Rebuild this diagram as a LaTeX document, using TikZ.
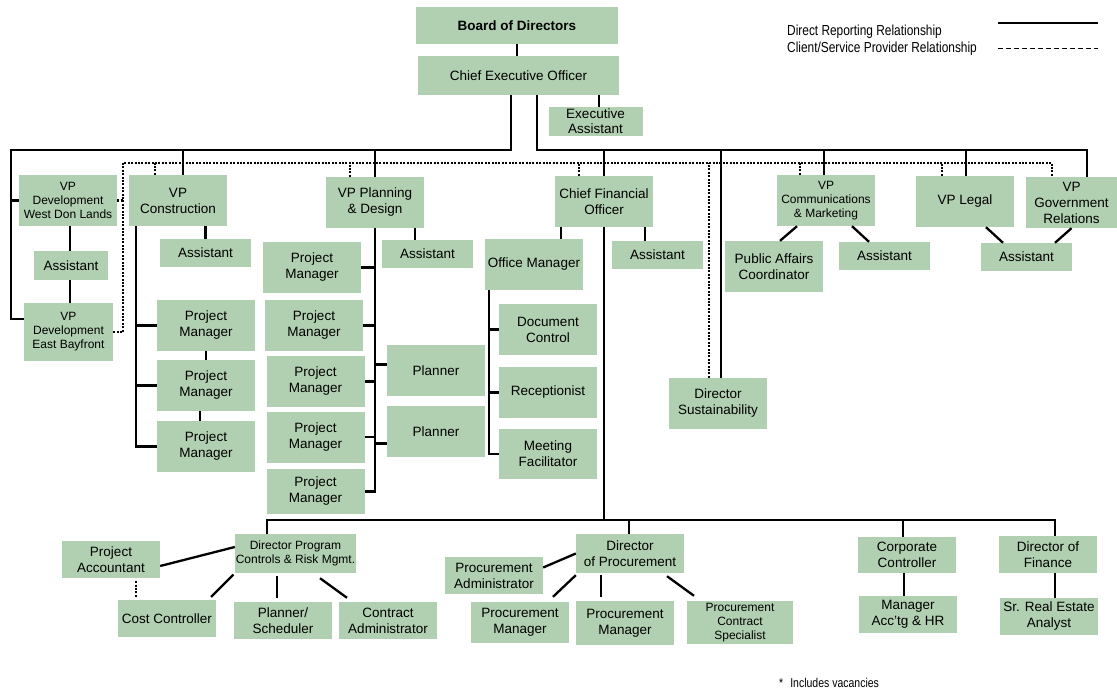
\documentclass[tikz,border=0pt]{standalone}
\usepackage{fontspec}
\setmainfont{Liberation Sans}
\newfontfamily\narrowfont[FakeStretch=0.82]{Liberation Sans}
\usepackage{tikz}
\definecolor{boxgreen}{RGB}{177,208,177}

\begin{document}
\begin{tikzpicture}[x=1pt, y=-1pt,
    box/.style={fill=boxgreen, align=center, inner sep=0pt, minimum width=98pt, minimum height=51pt, font=\fontsize{13.5}{16}\selectfont},
    smallbox/.style={box, font=\fontsize{12}{14}\selectfont},
    asst/.style={box, minimum width=91pt, minimum height=28pt},
    low/.style={box, minimum height=37pt},
    link/.style={line width=2.3pt},
    cslink/.style={line width=2.5pt, dash pattern=on 2pt off 1.4pt}]
  \useasboundingbox (0,0) rectangle (1117,691);

  % top
  \node[box, minimum width=202pt, minimum height=37pt] (board) at (517,25.5) {\textbf{Board of Directors}};
  \node[box, minimum width=201pt, minimum height=39pt] (ceo) at (518.5,75.5) {Chief Executive Officer};
  \node[box, minimum width=94pt, minimum height=29pt, font=\fontsize{13.5}{15}\selectfont] (ea) at (595.5,121.5) {Executive\\Assistant};

  % left side
  \node[smallbox] (vpwdl) at (68,200.5) {VP\\Development\\West Don Lands};
  \node[asst, minimum width=74pt, minimum height=29pt] (asstl) at (71,265.5) {Assistant};
  \node[smallbox, minimum width=89pt, minimum height=58pt] (vpeb) at (68.5,332) {VP\\Development\\East Bayfront};

  \node[box] (vpcon) at (178,200.5) {VP\\Construction};
  \node[asst] (asstc) at (205.5,253) {Assistant};
  \node[box] (pc1) at (206,325.5) {Project\\Manager};
  \node[box] (pc2) at (206,385.5) {Project\\Manager};
  \node[box] (pc3) at (206,446.5) {Project\\Manager};

  \node[box] (vpplan) at (375,202.5) {VP Planning\\\& Design};
  \node[asst] (asstp) at (427.5,254) {Assistant};
  \node[box] (pp1) at (312,267.5) {Project\\Manager};
  \node[box] (pp2) at (314,325.5) {Project\\Manager};
  \node[box] (pp3) at (315.5,381.5) {Project\\Manager};
  \node[box] (pp4) at (315.5,437) {Project\\Manager};
  \node[box, minimum height=45pt] (pp5) at (315.5,491.5) {Project\\Manager};
  \node[box] (pl1) at (436,370.5) {Planner};
  \node[box] (pl2) at (436,431.5) {Planner};

  % finance
  \node[box] (cfo) at (604,201.5) {Chief Financial\\Officer};
  \node[box] (om) at (534,264.5) {Office Manager};
  \node[box] (dc) at (548,329.5) {Document\\Control};
  \node[box] (rec) at (548,392.5) {Receptionist};
  \node[box, minimum height=50pt] (mf) at (548,454) {Meeting\\Facilitator};
  \node[asst] (asstf) at (657.5,255) {Assistant};

  \node[box] (dirsus) at (718,403.5) {Director\\Sustainability};

  % right side
  \node[smallbox] (vpcomm) at (826,200.5) {VP\\Communications\\\& Marketing};
  \node[box] (pac) at (774,266.5) {Public Affairs\\Coordinator};
  \node[asst] (asstcm) at (884.5,256) {Assistant};
  \node[box] (vplegal) at (965,201.5) {VP Legal};
  \node[box, minimum width=91pt] (vpgov) at (1071.5,202.5) {VP\\Government\\Relations};
  \node[asst] (asstlg) at (1026.5,257) {Assistant};

  % bottom row
  \node[smallbox, minimum width=121pt, minimum height=39pt] (dpc) at (295.5,553.5) {Director Program\\Controls \& Risk Mgmt.};
  \node[low] (pa) at (111,559.5) {Project\\Accountant};
  \node[low] (cc) at (167,618.5) {Cost Controller};
  \node[low] (ps) at (283,620.5) {Planner/\\Scheduler};
  \node[low] (ca) at (388,620.5) {Contract\\Administrator};

  \node[low, minimum width=108pt, minimum height=39pt] (dirproc) at (630,553.5) {Director\\of Procurement};
  \node[low] (procadm) at (494,575.5) {Procurement\\Administrator};
  \node[low, minimum height=41pt] (pm1) at (520,622.5) {Procurement\\Manager};
  \node[low, minimum height=44pt] (pm2) at (625,623) {Procurement\\Manager};
  \node[smallbox, minimum width=106pt, minimum height=43pt] (pcs) at (740,622.5) {Procurement\\Contract\\Specialist};

  \node[low, minimum height=36pt] (corpctrl) at (907,555) {Corporate\\Controller};
  \node[low] (mgr) at (908,614.5) {Manager\\Acc'tg \& HR};
  \node[low] (dirfin) at (1048,554.5) {Director of\\Finance};
  \node[low] (srea) at (1049,616.5) {Sr. Real Estate\\Analyst};

  % legend
  \node[anchor=base west, inner sep=0pt, font=\narrowfont\fontsize{14.5}{16}\selectfont] (legdir) at (787,35) {Direct Reporting Relationship};
  \node[anchor=base west, inner sep=0pt, font=\narrowfont\fontsize{14.5}{16}\selectfont] (legcs) at (787,52) {Client/Service Provider Relationship};
  \coordinate (ls1) at (998,23);
  \coordinate (ls2) at (1098,23);
  \coordinate (ld1) at (998,48);
  \coordinate (ld2) at (1098,48);
  \draw[line width=1.2pt] (ls1) -- (ls2);
  \draw[line width=1pt, dash pattern=on 4.5pt off 3.5pt] (ld1) -- (ld2);
  \node[anchor=base west, inner sep=0pt, font=\narrowfont\fontsize{12.8}{14}\selectfont] (note) at (779,687) {*\hspace{7pt}Includes vacancies};

  % buses
  \coordinate (lbus) at (11,150);
  \coordinate (rbus) at (1087,150);
  \coordinate (dleft) at (123,163);
  \coordinate (dright) at (1052,163);
  \coordinate (bbus) at (604,520);

  % direct reporting
  \draw[link] (board.south) -- (board.south |- ceo.north);
  \draw[link] ([xshift=3.5pt]ea.north) -- ([xshift=3.5pt]ea.north |- ceo.south);
  \draw[link] ([xshift=-7.5pt]ceo.south) |- (lbus) |- ([yshift=13pt]vpeb.west);
  \draw[link] (lbus |- vpwdl.west) -- (vpwdl.west);
  \draw[link] ([xshift=18.5pt]ceo.south) |- (rbus) -- (rbus |- vpgov.north);
  \draw[link] ([xshift=2pt]vpwdl.south) -- ([xshift=2pt]vpwdl.south |- asstl.north);
  \draw[link] ([xshift=-1pt]asstl.south) -- ([xshift=-1pt]asstl.south |- vpeb.north);

  \draw[link] ([xshift=5pt]vpcon.north) -- ([xshift=5pt]vpcon.north |- lbus);
  \draw[link] (asstc.north) -- (asstc.north |- vpcon.south);
  \draw[link] ([xshift=7pt]vpcon.south west) |- (pc3.west);
  \draw[link] ([xshift=7pt]vpcon.south west |- pc1.west) -- (pc1.west);
  \draw[link] ([xshift=7pt]vpcon.south west |- pc2.west) -- (pc2.west);
  \draw[link] (pc1.south) -- (pc2.north);
  \draw[link] ([xshift=-6pt]pc2.south) -- ([xshift=-6pt]pc3.north);

  \draw[link] (vpplan.north) -- (vpplan.north |- lbus);
  \draw[link] ([xshift=-12.5pt]asstp.north) -- ([xshift=-12.5pt]asstp.north |- vpplan.south);
  \draw[link] (vpplan.south) |- (pp5.east);
  \foreach \n in {pp1,pp2,pp3,pp4}
    \draw[link] (vpplan.south |- \n.east) -- (\n.east);
  \draw[link] (vpplan.south |- pl1.west) ++(0,-6) -- ([yshift=6pt]pl1.west);
  \draw[link] (vpplan.south |- pl2.west) ++(0,12) -- ([yshift=-12pt]pl2.west);

  \draw[link] (cfo.north) -- (cfo.north |- rbus);
  \draw[link] ([xshift=27pt]om.north) -- ([xshift=27pt]om.north |- cfo.south);
  \draw[link] ([xshift=4pt]om.south west) |- (mf.west);
  \draw[link] ([xshift=4pt]om.south west |- dc.west) -- (dc.west);
  \draw[link] ([xshift=4pt]om.south west |- rec.west) -- (rec.west);
  \draw[link] ([xshift=-12.5pt]asstf.north) -- ([xshift=-12.5pt]asstf.north |- cfo.south);
  \draw[link] (cfo.south) -- (bbus);

  \draw[link] ([xshift=3pt]dirsus.north) -- ([xshift=3pt]dirsus.north |- rbus);

  \draw[link] ([xshift=-2pt]vpcomm.north) -- ([xshift=-2pt]vpcomm.north |- rbus);
  \draw[link] ([xshift=-29pt]vpcomm.south) -- ([xshift=6pt]pac.north);
  \draw[link] ([xshift=26pt]vpcomm.south) -- ([xshift=-15.5pt]asstcm.north);
  \draw[link] ([xshift=1pt]vplegal.north) -- ([xshift=1pt]vplegal.north |- rbus);
  \draw[link] ([xshift=21pt]vplegal.south) -- ([xshift=-23.5pt]asstlg.north);
  \draw[link] (vpgov.south) -- ([xshift=28.5pt]asstlg.north);

  % bottom
  \draw[link] ([xshift=-28.5pt]dpc.north) |- (bbus) -| ([xshift=7pt]dirfin.north);
  \draw[link] ([xshift=-1pt]dirproc.north) -- ([xshift=-1pt]dirproc.north |- bbus);
  \draw[link] ([xshift=-4pt]corpctrl.north) -- ([xshift=-4pt]corpctrl.north |- bbus);

  \draw[link] ([yshift=-6.5pt]pa.east) -- ([yshift=6.5pt]dpc.west);
  \draw[link, shorten <=2pt, shorten >=4pt] (dpc.south west) -- ([xshift=-8pt]cc.north east);
  \draw[link, shorten <=4pt, shorten >=3pt] ([xshift=-6pt]ps.north) -- ([xshift=-6pt]ps.north |- dpc.south);
  \draw[link] ([xshift=24.5pt,yshift=-5pt]dpc.south) -- ([xshift=-41pt,yshift=4pt]ca.north);

  \draw[link] ([yshift=8pt]procadm.east) -- (dirproc.west);
  \draw[link] ([yshift=-2pt]dirproc.south west) -- ([xshift=33pt,yshift=5pt]pm1.north);
  \draw[link] ([xshift=-24pt,yshift=4pt]pm2.north) -- ([xshift=-24pt,yshift=-2pt]pm2.north |- dirproc.south);
  \draw[link] ([xshift=37pt,yshift=-3pt]dirproc.south) -- ([xshift=-46pt,yshift=5pt]pcs.north);

  \draw[link] ([xshift=-4pt]mgr.north) -- ([xshift=-4pt]mgr.north |- corpctrl.south);
  \draw[link] ([xshift=6pt]srea.north) -- ([xshift=6pt]srea.north |- dirfin.south);

  % client / service provider
  \draw[cslink] (vpeb.east) -| (dleft) -- (dright) -- ([xshift=-19.5pt]vpgov.north);
  \draw[cslink] (vpwdl.east) -- (vpwdl.east -| dleft);
  \draw[cslink] ([xshift=-23pt]vpcon.north) -- ([xshift=-23pt]vpcon.north |- dleft);
  \draw[cslink] ([xshift=-25pt]vpplan.north) -- ([xshift=-25pt]vpplan.north |- dleft);
  \draw[cslink] ([xshift=-25pt]cfo.north) -- ([xshift=-25pt]cfo.north |- dleft);
  \draw[cslink] ([xshift=-9pt]dirsus.north) -- ([xshift=-9pt]dirsus.north |- dleft);
  \draw[cslink] ([xshift=-26pt]vpcomm.north) -- ([xshift=-26pt]vpcomm.north |- dleft);
  \draw[cslink] ([xshift=-23pt]vplegal.north) -- ([xshift=-23pt]vplegal.north |- dleft);
  \draw[cslink, shorten <=3pt, shorten >=2pt] ([xshift=25pt]pa.south) -- ([xshift=25pt]pa.south |- cc.north);
\end{tikzpicture}
\end{document}
